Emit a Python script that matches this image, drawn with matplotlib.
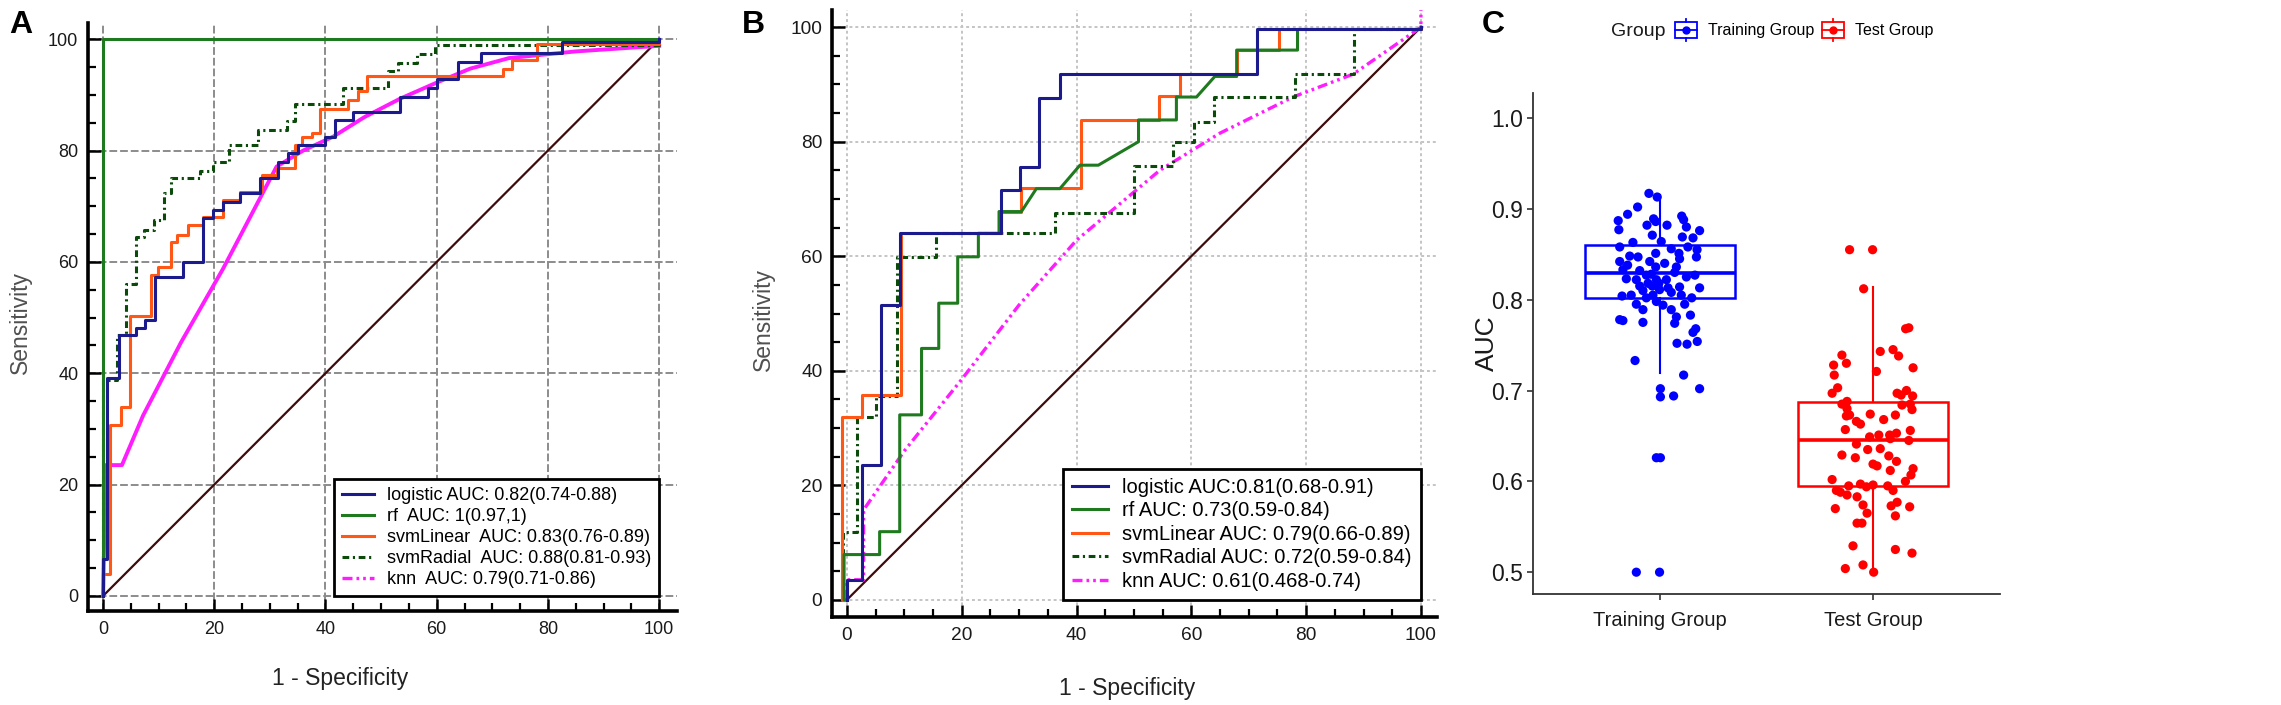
import matplotlib
matplotlib.use('Agg')
import matplotlib.pyplot as plt
import numpy as np

from matplotlib.legend_handler import HandlerBase
from matplotlib.lines import Line2D
from matplotlib.patches import Rectangle

plt.rcParams['font.family'] = ['Liberation Sans', 'DejaVu Sans']

# --- data: panel A, training set ROC (x = 1 - specificity, y = sensitivity) ---
a_logistic_x = [0, 0, 0.8, 0.8, 2.8, 2.8, 5.9, 5.9, 7.5, 7.5, 9.3, 9.3, 14.4, 14.4, 17.9, 17.9,
                19.8, 19.8, 21.6, 21.6, 24.6, 24.6, 28.3, 28.3, 31.5, 31.5, 33.3, 33.3, 35.1, 35.1,
                39.9, 39.9, 41.7, 41.7, 45.0, 45.0, 53.4, 53.4, 58.5, 58.5, 60.0, 60.0, 63.9, 63.9,
                68.0, 68.0, 82.5, 82.5, 100, 100]
a_logistic_y = [0, 6.6, 6.6, 39.1, 39.1, 46.9, 46.9, 48.1, 48.1, 49.5, 49.5, 57.2, 57.2, 59.9, 59.9, 67.8,
                67.8, 69.3, 69.3, 70.8, 70.8, 72.3, 72.3, 75.0, 75.0, 78.0, 78.0, 79.5, 79.5, 81.0,
                81.0, 82.5, 82.5, 85.5, 85.5, 87.0, 87.0, 89.7, 89.7, 91.3, 91.3, 92.8, 92.8, 95.9,
                95.9, 97.5, 97.5, 99.5, 99.5, 100]
a_rf_x = [0, 0, 100]
a_rf_y = [0, 100, 100]
a_svmlinear_x = [0, 0, 1.3, 1.3, 3.3, 3.3, 4.9, 4.9, 8.7, 8.7, 9.9, 9.9, 12.2, 12.2, 13.3, 13.3, 15.3,
                 15.3, 18.0, 18.0, 21.6, 21.6, 24.6, 24.6, 28.5, 28.5, 31.2, 31.2, 34.5, 34.5, 35.7,
                 35.7, 37.5, 37.5, 39.0, 39.0, 44.1, 44.1, 45.9, 45.9, 47.4, 47.4, 72.0, 72.0, 73.5,
                 73.5, 78.0, 78.0, 100, 100]
a_svmlinear_y = [0, 3.9, 3.9, 30.7, 30.7, 34.0, 34.0, 50.3, 50.3, 57.7, 57.7, 59.1, 59.1, 63.6, 63.6,
                 64.8, 64.8, 66.6, 66.6, 68.1, 68.1, 71.1, 71.1, 72.6, 72.6, 75.6, 75.6, 76.8, 76.8,
                 81.0, 81.0, 82.5, 82.5, 83.1, 83.1, 87.5, 87.5, 89.0, 89.0, 90.7, 90.7, 93.3, 93.3,
                 94.7, 94.7, 96.2, 96.2, 99.2, 99.2, 100]
a_svmradial_x = [0, 0, 2.6, 2.6, 4.2, 4.2, 5.9, 5.9, 7.3, 7.3, 9.1, 9.1, 10.9, 10.9, 12.3, 12.3, 17.4,
                 17.4, 19.8, 19.8, 22.7, 22.7, 27.9, 27.9, 33.0, 33.0, 34.5, 34.5, 43.2, 43.2, 51.3,
                 51.3, 53.1, 53.1, 56.4, 56.4, 59.7, 59.7, 100, 100]
a_svmradial_y = [0, 38.8, 38.8, 46.9, 46.9, 56.0, 56.0, 64.4, 64.4, 65.8, 65.8, 67.5, 67.5, 72.3, 72.3,
                 75.0, 75.0, 76.4, 76.4, 77.9, 77.9, 81.0, 81.0, 83.7, 83.7, 85.3, 85.3, 88.3, 88.3,
                 91.3, 91.3, 94.3, 94.3, 95.8, 95.8, 97.4, 97.4, 99.0, 99.0, 100]
a_knn_x = [0, 0.5, 3.4, 7.2, 14.0, 21.6, 31.2, 36.0, 41.4, 47.0, 53.4, 60.0, 66.0, 73.0, 85.0, 100]
a_knn_y = [0, 23.5, 23.5, 32.4, 45.5, 58.8, 77.1, 80.0, 82.5, 86.0, 89.3, 92.2, 94.7, 96.6, 97.8, 98.8]

# --- data: panel B, test set ROC ---
b_logistic_x = [0, 0, 2.6, 2.6, 6.0, 6.0, 9.2, 9.2, 26.9, 26.9, 30.1, 30.1, 33.5, 33.5, 37.1, 37.1,
                71.4, 71.4, 100, 100]
b_logistic_y = [0, 3.5, 3.5, 23.6, 23.6, 51.5, 51.5, 64.0, 64.0, 71.6, 71.6, 75.6, 75.6, 87.6, 87.6,
                91.8, 91.8, 99.6, 99.6, 100]
b_rf_x = [0, -0.5, -0.5, 5.7, 5.7, 9.2, 9.2, 13.0, 13.0, 16.0, 16.0, 19.3, 19.3, 22.9, 22.9, 26.5,
          26.5, 30.4, 33.0, 37.1, 40.6, 43.8, 50.8, 50.8, 57.4, 57.4, 60.9, 64.1, 67.9, 67.9, 78.5,
          78.5, 100, 100]
b_rf_y = [0, 0, 7.9, 7.9, 11.9, 11.9, 32.3, 32.3, 43.9, 43.9, 51.8, 51.8, 59.9, 59.9, 64.0, 64.0,
          67.8, 67.8, 71.8, 71.8, 75.9, 75.9, 80.0, 83.8, 83.8, 87.8, 87.8, 91.4, 91.4, 96.0, 96.0,
          99.6, 99.6, 100]
b_svmlinear_x = [0, -0.8, -0.8, 2.6, 2.6, 9.5, 9.5, 26.9, 26.9, 30.4, 30.4, 40.7, 40.7, 54.3, 54.3,
                 58.0, 58.0, 67.9, 67.9, 75.3, 75.3, 100, 100]
b_svmlinear_y = [0, 0, 32.0, 32.0, 35.8, 35.8, 64.0, 64.0, 67.8, 67.8, 72.0, 72.0, 83.8, 83.8, 87.9,
                 87.9, 91.8, 91.8, 96.0, 96.0, 99.6, 99.6, 100]
b_svmradial_x = [0, -0.6, -0.6, 1.8, 1.8, 5.0, 5.0, 8.7, 8.7, 15.6, 15.6, 36.2, 36.2, 50.0, 50.0,
                 56.8, 56.8, 60.4, 60.4, 64.0, 64.0, 78.0, 78.0, 88.3, 88.3, 100, 100]
b_svmradial_y = [0, 0, 11.9, 11.9, 32.0, 32.0, 35.6, 35.6, 59.9, 59.9, 64.0, 64.0, 67.6, 67.6, 75.8,
                 75.8, 80.0, 80.0, 83.5, 83.5, 87.8, 87.8, 91.8, 91.8, 99.6, 99.6, 100]
b_knn_x = [0, 0, 2.9, 2.9, 10.0, 20.0, 30.0, 40.0, 54.5, 65.0, 77.7, 88.2, 100, 100]
b_knn_y = [0, 3.5, 3.5, 15.7, 26.0, 38.5, 51.5, 62.8, 75.0, 81.5, 87.8, 91.8, 100, 103]

models = ['logistic', 'rf', 'svmLinear', 'svmRadial', 'knn']
a_labels = ['logistic AUC: 0.82(0.74-0.88)', 'rf  AUC: 1(0.97,1)', 'svmLinear  AUC: 0.83(0.76-0.89)',
            'svmRadial  AUC: 0.88(0.81-0.93)', 'knn  AUC: 0.79(0.71-0.86)']
b_labels = ['logistic AUC:0.81(0.68-0.91)', 'rf AUC: 0.73(0.59-0.84)', 'svmLinear AUC: 0.79(0.66-0.89)',
            'svmRadial AUC: 0.72(0.59-0.84)', 'knn AUC: 0.61(0.468-0.74)']

# --- data: panel C, AUC distribution (jitter offset in category units, AUC) ---
group_names = ['Training Group', 'Test Group']
train_jitter = [-0.052, -0.013, -0.105, -0.152, -0.196, -0.193, -0.030, -0.020, -0.061, -0.036,
                0.033, 0.102, 0.111, 0.124, 0.186, 0.155, 0.105, -0.127, -0.189, 0.006, 0.053,
                0.089, 0.174, 0.171, -0.020, -0.103, -0.189, -0.152, -0.174, 0.022, -0.020, 0.077,
                0.069, 0.124, -0.064, -0.111, -0.158, 0.164, -0.056, -0.095, -0.036, -0.005,
                -0.002, 0.092, 0.186, 0.100, -0.135, -0.178, -0.064, -0.017, 0.014, 0.149, -0.080,
                0.053, 0.143, 0.077, -0.189, -0.174, -0.080, 0.069, 0.168, 0.155, 0.080, 0.127,
                0.175, -0.117, 0.111, 0.002, 0.002, 0.064, 0.186, -0.017, 0.002, -0.111, -0.002,
                -0.041, 0.030, -0.080, 0.053, -0.142, 0.092, 0.131, -0.095, -0.048, 0.038, -0.017,
                -0.111, 0.116, -0.033]
train_auc = [0.917, 0.913, 0.902, 0.894, 0.887, 0.877, 0.889, 0.886, 0.882, 0.871, 0.882, 0.892,
             0.888, 0.880, 0.876, 0.868, 0.869, 0.863, 0.858, 0.864, 0.856, 0.851, 0.855, 0.847,
             0.851, 0.847, 0.842, 0.838, 0.833, 0.840, 0.836, 0.836, 0.830, 0.825, 0.827, 0.822,
             0.823, 0.827, 0.818, 0.815, 0.815, 0.818, 0.811, 0.814, 0.813, 0.805, 0.805, 0.804,
             0.802, 0.798, 0.794, 0.802, 0.789, 0.789, 0.783, 0.781, 0.778, 0.777, 0.775, 0.774,
             0.768, 0.764, 0.752, 0.751, 0.754, 0.733, 0.717, 0.702, 0.693, 0.694, 0.702, 0.626,
             0.626, 0.500, 0.500, 0.828, 0.822, 0.810, 0.808, 0.848, 0.845, 0.858, 0.832, 0.842,
             0.813, 0.822, 0.795, 0.795, 0.805]
test_jitter = [-0.110, -0.002, -0.044, 0.153, 0.168, 0.034, 0.094, -0.146, 0.120, -0.185, -0.125,
               -0.182, 0.016, 0.188, -0.166, -0.192, 0.113, 0.132, 0.157, 0.186, -0.122, -0.146,
               0.136, 0.175, 0.183, -0.122, -0.110, -0.125, -0.013, 0.105, 0.050, -0.078, -0.059,
               -0.130, 0.175, 0.110, 0.078, -0.016, 0.027, 0.081, 0.168, -0.078, -0.025, 0.034,
               -0.146, -0.083, 0.074, 0.000, 0.019, 0.110, 0.081, 0.188, 0.178, -0.192, 0.152,
               -0.172, -0.153, -0.114, -0.059, -0.031, 0.000, 0.069, 0.094, -0.122, -0.075,
               -0.177, -0.047, 0.085, 0.113, 0.172, -0.028, 0.105, -0.075, -0.052, -0.094,
               0.105, 0.183, -0.130, -0.047, 0.003]
test_auc = [0.855, 0.855, 0.812, 0.768, 0.769, 0.743, 0.745, 0.739, 0.738, 0.728, 0.730, 0.717,
            0.721, 0.725, 0.703, 0.697, 0.697, 0.695, 0.700, 0.694, 0.688, 0.685, 0.684, 0.685,
            0.679, 0.680, 0.673, 0.672, 0.674, 0.673, 0.668, 0.666, 0.663, 0.657, 0.656, 0.653,
            0.651, 0.649, 0.651, 0.647, 0.645, 0.641, 0.635, 0.636, 0.629, 0.626, 0.628, 0.619,
            0.617, 0.622, 0.612, 0.614, 0.607, 0.602, 0.600, 0.590, 0.588, 0.595, 0.597, 0.594,
            0.596, 0.595, 0.590, 0.585, 0.583, 0.570, 0.574, 0.573, 0.577, 0.572, 0.565, 0.562,
            0.554, 0.554, 0.529, 0.525, 0.521, 0.504, 0.508, 0.500]
# box statistics: lower whisker, Q1, median, Q3, upper whisker
train_box = [0.719, 0.802, 0.829, 0.860, 0.915]
test_box = [0.500, 0.595, 0.646, 0.687, 0.814]


class BoxKeyHandler(HandlerBase):
    def create_artists(self, legend, orig_handle, xdescent, ydescent, width, height, fontsize, trans):
        color = orig_handle.get_color()
        x0, y0 = -xdescent, -ydescent
        cx, cy = x0 + width / 2, y0 + height / 2
        bh = height * 0.72
        rect = Rectangle((x0, cy - bh / 2), width, bh, facecolor='white', edgecolor=color,
                         linewidth=1.3, transform=trans)
        wt = Line2D([cx, cx], [cy + bh / 2, y0 + height], color=color, lw=1.3, transform=trans)
        wb = Line2D([cx, cx], [y0, cy - bh / 2], color=color, lw=1.3, transform=trans)
        med = Line2D([x0, x0 + width], [cy, cy], color=color, lw=1.3, transform=trans)
        dot = Line2D([cx], [cy], marker='o', ms=5, color=color, transform=trans)
        return [rect, wt, wb, med, dot]


def style_roc_axes(ax, tick_size, grid_color, grid_ls, xlim, ylim):
    ax.set_xlim(*xlim)
    ax.set_ylim(*ylim)
    for side in ['top', 'right']:
        ax.spines[side].set_visible(False)
    for side in ['left', 'bottom']:
        ax.spines[side].set_linewidth(2.6)
    ax.set_xticks(np.arange(0, 101, 20))
    ax.set_yticks(np.arange(0, 101, 20))
    ax.set_xticks(np.arange(0, 101, 5), minor=True)
    ax.set_yticks(np.arange(0, 101, 5), minor=True)
    ax.tick_params(which='major', direction='in', length=9, width=1.8, labelsize=tick_size,
                   labelcolor='#1a1a1a', pad=7)
    ax.tick_params(which='minor', direction='in', length=5.5, width=1.6)
    ax.grid(True, which='major', color=grid_color, ls=grid_ls, lw=1.4)
    ax.set_axisbelow(True)


def draw_roc(ax, curves, labels, legend_size, knn_solid):
    colors = ['#1b1b8e', '#1f7a1f', '#ff5716', '#0b4a0b', '#ff1cff']
    styles = ['-', '-', '-', (0, (2.2, 1.2, 0.7, 1.2)), (0, (3, 1.2, 0.8, 1.2, 0.8, 1.2))]
    widths = [2.2, 2.2, 2.2, 2.2, 2.4]
    ax.plot([0, 100], [0, 100], color='#3d0b0b', lw=1.6, zorder=2)
    handles = []
    for i, (xs, ys) in enumerate(curves):
        ls = styles[i]
        lw = widths[i]
        if i == 4 and knn_solid:
            ls = '-'
            lw = 2.8
        ax.plot(xs, ys, color=colors[i], ls=ls, lw=lw, zorder=3 + (4 - i) * 0.1)
        handles.append(Line2D([], [], color=colors[i], ls=styles[i], lw=widths[i]))
    leg = ax.legend(handles, labels, loc='lower right', bbox_to_anchor=(100, 0),
                    bbox_transform=ax.transData, borderaxespad=0, fancybox=False,
                    edgecolor='black', framealpha=1, fontsize=legend_size, handlelength=1.8,
                    handletextpad=0.7, labelspacing=0.22, borderpad=0.45)
    leg.get_frame().set_linewidth(2)
    leg.set_zorder(10)


def main():
    W, H = 2281, 705
    fig = plt.figure(figsize=(W / 100, H / 100), dpi=100)

    # --- panel A ---
    ax_a = fig.add_axes([88 / W, (H - 611) / H, (677 - 88) / W, (611 - 23) / H])
    style_roc_axes(ax_a, 13, '#8c8c8c', (0, (4, 1.5)), (-2.7, 103.2), (-2.7, 102.9))
    draw_roc(ax_a, [(a_logistic_x, a_logistic_y), (a_rf_x, a_rf_y), (a_svmlinear_x, a_svmlinear_y),
                    (a_svmradial_x, a_svmradial_y), (a_knn_x, a_knn_y)], a_labels, 13, True)
    ax_a.set_ylabel('Sensitivity', fontsize=16.5, color='#505050', va='center')
    ax_a.yaxis.set_label_coords(-0.115, 0.49)
    ax_a.set_xlabel('1 - Specificity', fontsize=16.5, color='#222222', va='center')
    ax_a.xaxis.set_label_coords(0.428, -0.114)

    # --- panel B ---
    ax_b = fig.add_axes([832 / W, (H - 617) / H, (1437 - 832) / W, (617 - 10) / H])
    style_roc_axes(ax_b, 13.8, '#c4c4c4', (0, (1.5, 1.5)), (-2.6, 102.8), (-3.0, 103.0))
    draw_roc(ax_b, [(b_logistic_x, b_logistic_y), (b_rf_x, b_rf_y), (b_svmlinear_x, b_svmlinear_y),
                    (b_svmradial_x, b_svmradial_y), (b_knn_x, b_knn_y)], b_labels, 14.5, False)
    ax_b.set_ylabel('Sensitivity', fontsize=16.5, color='#505050', va='center')
    ax_b.yaxis.set_label_coords(-0.114, 0.49)
    ax_b.set_xlabel('1 - Specificity', fontsize=16.5, color='#222222', va='center')
    ax_b.xaxis.set_label_coords(0.488, -0.117)

    # --- panel C ---
    ax_c = fig.add_axes([1533 / W, (H - 594) / H, (2000 - 1533) / W, (594 - 93) / H])
    group_colors = ['#0000ff', '#ff0000']
    stats = []
    for name, box in zip(group_names, [train_box, test_box]):
        stats.append({'label': name, 'whislo': box[0], 'q1': box[1], 'med': box[2],
                      'q3': box[3], 'whishi': box[4], 'fliers': []})
    art = ax_c.bxp(stats, positions=[1, 2], widths=0.7, showcaps=False, showfliers=False,
                   patch_artist=True, manage_ticks=False)
    for i, c in enumerate(group_colors):
        art['boxes'][i].set(facecolor='white', edgecolor=c, linewidth=1.8, zorder=2)
        art['medians'][i].set(color=c, linewidth=2.6, zorder=2.5)
        for w in art['whiskers'][2 * i:2 * i + 2]:
            w.set(color=c, linewidth=1.5)
    ax_c.scatter(1 + np.array(train_jitter), train_auc, s=44, color=group_colors[0],
                 edgecolors='none', zorder=3)
    ax_c.scatter(2 + np.array(test_jitter), test_auc, s=44, color=group_colors[1],
                 edgecolors='none', zorder=3)
    ax_c.set_xlim(0.404, 2.596)
    ax_c.set_ylim(0.476, 1.0275)
    ax_c.set_xticks([1, 2])
    ax_c.set_xticklabels(group_names, fontsize=14.5, color='#1a1a1a')
    ax_c.set_yticks([0.5, 0.6, 0.7, 0.8, 0.9, 1.0])
    ax_c.set_yticklabels(['0.5', '0.6', '0.7', '0.8', '0.9', '1.0'], fontsize=16.5,
                         color='#1a1a1a')
    for side in ['top', 'right']:
        ax_c.spines[side].set_visible(False)
    for side in ['left', 'bottom']:
        ax_c.spines[side].set_linewidth(1.3)
        ax_c.spines[side].set_color('#333333')
    ax_c.tick_params(direction='out', length=4, width=1.2, color='#333333')
    ax_c.tick_params(axis='x', pad=8)
    ax_c.tick_params(axis='y', pad=3)
    ax_c.set_ylabel('AUC', fontsize=19, color='#1a1a1a', va='center')
    ax_c.yaxis.set_label_coords(-0.098, 0.50)

    handles = [Line2D([], [], color=c) for c in group_colors]
    fig.text(1611 / W, (H - 31) / H, 'Group', fontsize=14, color='#1a1a1a',
             ha='left', va='center')
    fig.legend(handles, group_names, loc='center left', bbox_to_anchor=(1675 / W, (H - 30) / H),
               ncol=2, frameon=False, prop={'size': 11.5},
               handler_map={h: BoxKeyHandler() for h in handles}, handlelength=1.35,
               handleheight=1.7, handletextpad=0.7, columnspacing=0.5, borderpad=0, borderaxespad=0)

    # --- panel letters ---
    for letter, x in [('A', 9), ('B', 742), ('C', 1482)]:
        fig.text(x / W, 1 - 10 / H, letter, fontsize=23, fontweight='bold', ha='left', va='top')

    fig.savefig('out.png', dpi=100)


if __name__ == '__main__':
    main()
